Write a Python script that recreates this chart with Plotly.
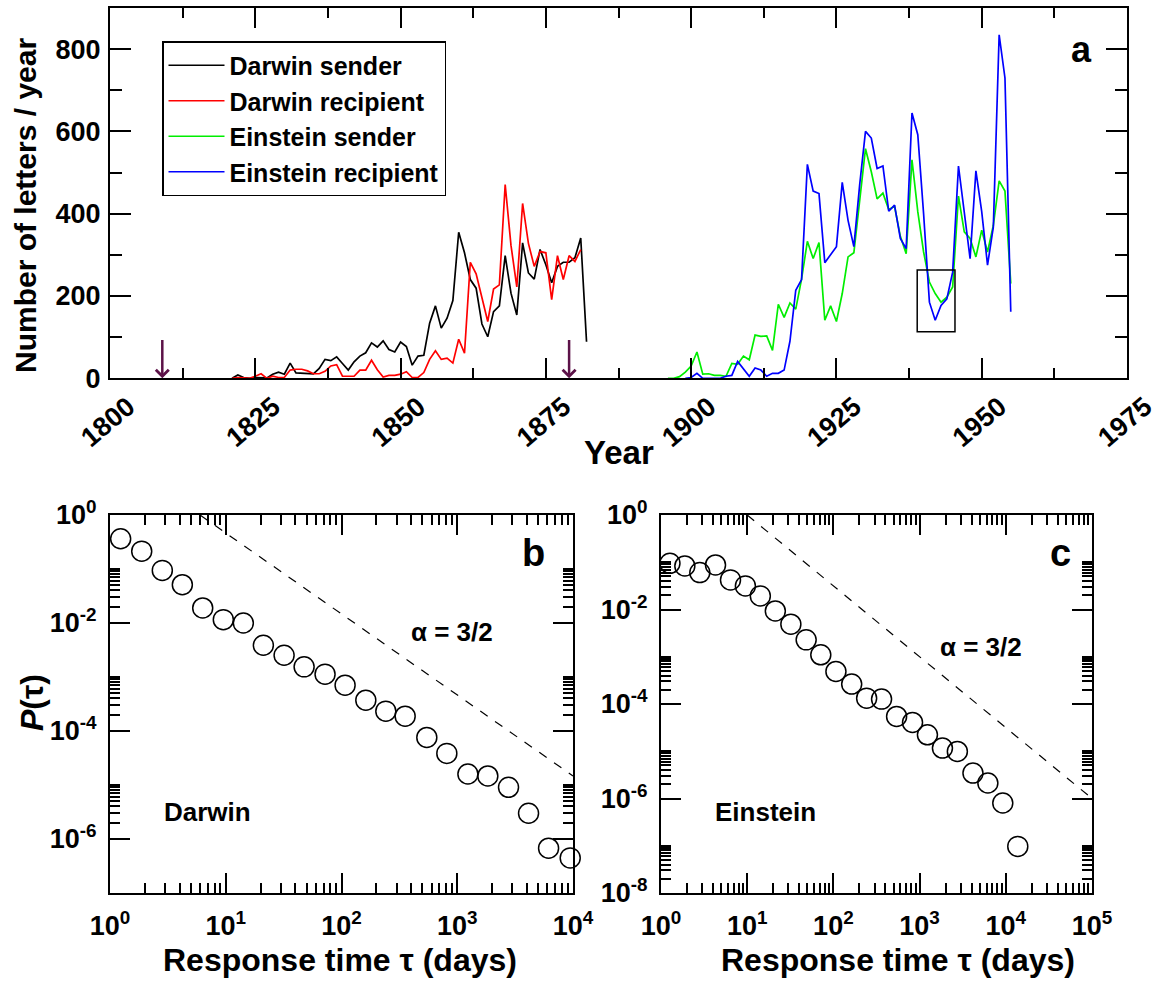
import plotly.graph_objects as go

# ---------------- data: panel a ----------------
darwin_sender_years = list(range(1821, 1883))
darwin_sender = [0, 8, 2, 0, 2, 2, 1, 10, 15, 10,
                 37, 13, 12, 11, 11, 24, 46, 43, 52, 36,
                 20, 40, 54, 62, 86, 76, 91, 70, 64, 88,
                 77, 32, 54, 56, 134, 176, 122, 146, 189, 355,
                 305, 240, 219, 132, 101, 162, 176, 298, 207, 154,
                 329, 256, 241, 313, 276, 232, 272, 282, 282, 293,
                 341, 89]
darwin_recipient_years = list(range(1821, 1882))
darwin_recipient = [0, 2, 1, 0, 5, 11, 0, 5, 2, 2,
                    20, 22, 22, 18, 11, 11, 17, 30, 33, 5,
                    5, 5, 20, 20, 44, 21, 3, 7, 7, 10,
                    16, 2, 2, 14, 46, 67, 46, 49, 37, 95,
                    61, 282, 254, 199, 138, 217, 227, 471, 323, 222,
                    425, 328, 272, 308, 305, 191, 298, 240, 298, 284,
                    313]
einstein_sender_years = list(range(1896, 1956))
einstein_sender = [0, 0, 4, 15,
                   30, 64, 10, 11, 7, 7, 5, 36, 34, 54,
                   45, 105, 102, 103, 68, 180, 148, 183, 168, 241,
                   333, 291, 330, 141, 176, 138, 206, 295, 305, 440,
                   558, 502, 436, 450, 410, 418, 345, 303, 531, 405,
                   307, 234, 206, 185, 197, 222, 443, 356, 340, 295,
                   360, 307, 372, 480, 455, 230]
einstein_recipient_years = list(range(1899, 1956))
einstein_recipient = [0,
                      2, 12, 0, 0, 0, 0, 5, 7, 41, 24,
                      5, 25, 20, 5, 12, 12, 20, 90, 214, 240,
                      520, 455, 449, 281, 300, 320, 476, 384, 320, 470,
                      600, 584, 510, 516, 406, 421, 340, 315, 645, 592,
                      400, 185, 141, 177, 193, 258, 516, 405, 291, 504,
                      405, 275, 368, 835, 730, 162]
birth_years = [1809, 1879]
arrow_top_value = 97
inset_box_years = [1938.9, 1945.4]
inset_box_values = [113, 263]
year_ticks = [1800, 1825, 1850, 1875, 1900, 1925, 1950, 1975]
letters_ticks = [0, 200, 400, 600, 800]

# ---------------- data: panels b, c ----------------
darwin_tau = [1.236, 1.879, 2.831, 4.217, 6.324, 9.528, 14.19, 21.13, 31.92, 47.53,
              72.11, 107.4, 162.2, 241.5, 354.8, 545.8, 812.8, 1236, 1837, 2773,
              4130, 6152, 9462]
darwin_P = [0.363, 0.214, 0.0942, 0.0512, 0.0190, 0.01153, 0.0100, 0.00387, 0.00253, 0.00154,
            0.00113, 7.05e-4, 3.72e-4, 2.33e-4, 1.88e-4, 7.60e-5, 3.85e-5, 1.60e-5, 1.47e-5, 9.06e-6,
            3.00e-6, 6.76e-7, 4.47e-7]
einstein_tau = [1.27, 1.89, 2.82, 4.29, 6.40, 9.53, 14.2, 21.2, 32.1, 48.3,
                71.4, 107, 163, 243, 362, 541, 828, 1233, 1841, 2742,
                4159, 6194, 9226, 13772]
einstein_P = [0.0951, 0.0836, 0.0604, 0.0877, 0.0423, 0.0316, 0.0194, 0.00933, 0.00489, 0.00228,
              0.00110, 4.88e-4, 2.64e-4, 1.33e-4, 1.27e-4, 5.45e-5, 4.07e-5, 2.23e-5, 1.17e-5, 9.91e-6,
              3.46e-6, 2.13e-6, 8.04e-7, 9.7e-8]
darwin_guide_tau = [6.0, 1e4]
darwin_guide_P = [1.0, 1.47e-5]
einstein_guide_tau = [10.0, 1e5]
einstein_guide_P = [1.0, 1.0e-6]

b_xticks = [1, 10, 100, 1000, 10000]
b_xtext = ["10<sup>0</sup>", "10<sup>1</sup>", "10<sup>2</sup>", "10<sup>3</sup>", "10<sup>4</sup>"]
c_xticks = [1, 10, 100, 1000, 10000, 100000]
c_xtext = b_xtext + ["10<sup>5</sup>"]
b_yticks = [1, 1e-2, 1e-4, 1e-6]
b_ytext = ["10<sup>0</sup>", "10<sup>-2</sup>", "10<sup>-4</sup>", "10<sup>-6</sup>"]
c_yticks = [1, 1e-2, 1e-4, 1e-6, 1e-8]
c_ytext = b_ytext + ["10<sup>-8</sup>"]

# ---------------- figure ----------------
W, H = 1160, 981
FONT = "Liberation Sans, Arial, sans-serif"


def px_x(p):
    return p / W


def px_y(p):
    return 1 - p / H


fig = go.Figure()

line_styles = [
    (darwin_sender_years, darwin_sender, "Darwin sender", "#000000"),
    (darwin_recipient_years, darwin_recipient, "Darwin recipient", "#ff0000"),
    (einstein_sender_years, einstein_sender, "Einstein sender", "#00ee00"),
    (einstein_recipient_years, einstein_recipient, "Einstein recipient", "#0000ff"),
]
for xs, ys, name, col in line_styles:
    fig.add_trace(go.Scatter(x=xs, y=ys, mode="lines", name=name,
                             line=dict(color=col, width=1.7),
                             xaxis="x", yaxis="y"))

# panel b
fig.add_trace(go.Scatter(x=darwin_guide_tau, y=darwin_guide_P, mode="lines",
                         line=dict(color="black", width=1.2, dash="dash"),
                         showlegend=False, xaxis="x2", yaxis="y2"))
fig.add_trace(go.Scatter(x=darwin_tau, y=darwin_P, mode="markers",
                         marker=dict(symbol="circle-open", size=20, color="black",
                                     line=dict(width=1.5, color="black")),
                         showlegend=False, xaxis="x2", yaxis="y2", cliponaxis=False))
# panel c
fig.add_trace(go.Scatter(x=einstein_guide_tau, y=einstein_guide_P, mode="lines",
                         line=dict(color="black", width=1.2, dash="dash"),
                         showlegend=False, xaxis="x3", yaxis="y3"))
fig.add_trace(go.Scatter(x=einstein_tau, y=einstein_P, mode="markers",
                         marker=dict(symbol="circle-open", size=20, color="black",
                                     line=dict(width=1.5, color="black")),
                         showlegend=False, xaxis="x3", yaxis="y3", cliponaxis=False))

tickfont = dict(family=FONT, size=27, color="black", weight="bold")
common_axis = dict(showline=True, linecolor="black", linewidth=2, mirror="ticks",
                   ticks="inside", tickcolor="black", tickwidth=1.5, showgrid=False,
                   zeroline=False, tickfont=tickfont, automargin=False)

b_minor_y = [m * 10.0 ** e for e in (-8, -6, -4, -2) for m in range(2, 11)]
b_minor_y = [v for v in b_minor_y if v > 1.01e-7]
c_minor_y = [m * 10.0 ** e for e in (-8, -6, -4, -2) for m in range(2, 11)]
log_minor_x = [m * 10.0 ** e for e in range(0, 5) for m in range(2, 10)]

fig.update_layout(
    width=W, height=H, margin=dict(l=0, r=0, t=0, b=0, autoexpand=False),
    paper_bgcolor="white", plot_bgcolor="white",
    font=dict(family=FONT, color="black"),
    showlegend=True,
    legend=dict(x=px_x(162), y=px_y(41), xanchor="left", yanchor="top",
                bordercolor="black", borderwidth=1.5, bgcolor="white",
                font=dict(family=FONT, size=25, color="black", weight="bold"),
                itemwidth=56, tracegroupgap=0),
    xaxis=dict(domain=[px_x(110), px_x(1127)], range=[1800, 1975], anchor="y",
               tickvals=year_ticks, ticktext=[str(v) for v in year_ticks], tickangle=-40,
               ticklabelshift=18, ticklabelstandoff=0,
               ticklen=20, minor=dict(dtick=12.5, tick0=1800, ticklen=10, ticks="inside",
                                      tickcolor="black", tickwidth=1.5),
               **common_axis),
    yaxis=dict(domain=[px_y(378.3), px_y(8)], range=[0, 900], anchor="x",
               tickvals=letters_ticks, ticklen=21, ticklabelstandoff=2,
               minor=dict(dtick=100, tick0=0, ticklen=12, ticks="inside",
                          tickcolor="black", tickwidth=1.5),
               **common_axis),
    xaxis2=dict(type="log", domain=[px_x(110), px_x(573)], range=[0, 4], anchor="y2",
                tickvals=b_xticks, ticktext=b_xtext, ticklen=20, ticklabelstandoff=8,
                minor=dict(tickvals=log_minor_x, ticklen=10, ticks="inside",
                           tickcolor="black", tickwidth=1.5),
                **common_axis),
    yaxis2=dict(type="log", domain=[px_y(893), px_y(515)], range=[-7, 0], anchor="x2",
                tickvals=b_yticks, ticktext=b_ytext, ticklen=20, ticklabelstandoff=6,
                minor=dict(tickvals=b_minor_y, ticklen=10, ticks="inside",
                           tickcolor="black", tickwidth=1.5),
                **common_axis),
    xaxis3=dict(type="log", domain=[px_x(661), px_x(1092)], range=[0, 5], anchor="y3",
                tickvals=c_xticks, ticktext=c_xtext, ticklen=20, ticklabelstandoff=8,
                minor=dict(tickvals=log_minor_x + [m * 1e4 for m in range(2, 10)],
                           ticklen=10, ticks="inside", tickcolor="black", tickwidth=1.5),
                **common_axis),
    yaxis3=dict(type="log", domain=[px_y(893), px_y(515)], range=[-8, 0], anchor="x3",
                tickvals=c_yticks, ticktext=c_ytext, ticklen=20, ticklabelstandoff=6,
                minor=dict(tickvals=c_minor_y, ticklen=10, ticks="inside",
                           tickcolor="black", tickwidth=1.5),
                **common_axis),
)

# inset rectangle
fig.add_shape(type="rect", xref="x", yref="y",
              x0=inset_box_years[0], x1=inset_box_years[1],
              y0=inset_box_values[0], y1=inset_box_values[1],
              line=dict(color="black", width=1.5))

# birth arrows
for yr in birth_years:
    fig.add_annotation(x=yr, y=0, ax=yr, ay=arrow_top_value, xref="x", yref="y",
                       axref="x", ayref="y", text="", showarrow=True,
                       arrowhead=4, arrowsize=1.0, arrowwidth=2.5,
                       arrowcolor="#5c1248", standoff=0)


def ann(text, x, y, size, bold=True, angle=0):
    fig.add_annotation(text=text, x=px_x(x), y=px_y(y), xref="paper", yref="paper",
                       showarrow=False, textangle=angle, xanchor="center", yanchor="middle",
                       font=dict(family=FONT, size=size, color="black",
                                 weight="bold" if bold else "normal"))


ann("a", 1081, 50, 36)
ann("b", 533, 553, 38)
ann("c", 1060, 553, 38)
ann("α = 3/2", 452, 632, 26)
ann("α = 3/2", 981, 647, 26)
ann("Darwin", 207, 812, 26)
ann("Einstein", 765, 812, 26)
ann("Number of letters / year", 25, 206, 30, angle=-90)
ann("Year", 619, 452, 33)
ann("<i>P</i>(τ)", 32, 703, 32, angle=-90)
ann("Response time τ (days)", 340, 960, 32)
ann("Response time τ (days)", 898, 960, 32)

fig.write_html("out.html", config={"displayModeBar": False},
               post_script="document.body.style.margin='0px';document.body.style.overflow='hidden';")
